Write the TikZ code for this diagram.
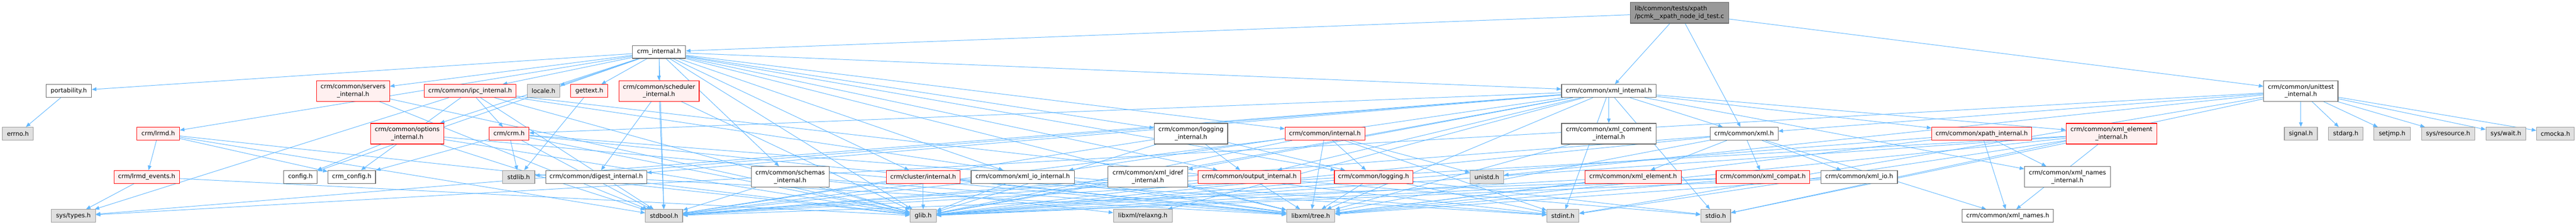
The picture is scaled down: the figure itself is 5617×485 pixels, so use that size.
\documentclass[tikz,border=0pt]{standalone}
\usepackage{fontspec}
\setmainfont{DejaVu Sans}
\usetikzlibrary{arrows.meta,backgrounds}
\definecolor{edgec}{HTML}{63B8FF}
\definecolor{wdraw}{HTML}{666666}
\definecolor{gfill}{HTML}{E0E0E0}
\definecolor{gdraw}{HTML}{999999}
\definecolor{rfill}{HTML}{FFF0F0}
\definecolor{rdraw}{HTML}{FF0000}
\definecolor{rootfill}{HTML}{999999}
\begin{document}
\begin{tikzpicture}[x=1pt,y=-1pt,
  font=\fontsize{13.3}{16.5}\selectfont,
  nd/.style={draw, line width=1.3pt, inner xsep=4pt, inner ysep=0pt, minimum height=28pt, align=center, anchor=center},
  wn/.style={nd, fill=white, draw=wdraw},
  gn/.style={nd, fill=gfill, draw=gdraw},
  rn/.style={nd, fill=rfill, draw=rdraw},
  rt/.style={nd, fill=rootfill, draw=wdraw},
  two/.style={minimum height=45pt},
  e/.style={draw=edgec, line width=1.1pt, -{Triangle[length=10pt,width=8pt]}}]
\useasboundingbox (0,0) rectangle (5617,485);
% row 0
\node[rt, two, minimum width=215pt, align=left] (root) at (3662,28) {lib/common/tests/xpath\\/pcmk\_\_xpath\_node\_id\_test.c};
% row 1
\node[wn, minimum width=116pt] (crmint) at (1437,113) {crm\_internal.h};
% row 2
\node[wn, minimum width=99pt] (portab) at (150,198) {portability.h};
\node[rn, two, minimum width=159pt] (servers) at (770,198) {crm/common/servers\\\_internal.h};
\node[rn, minimum width=200pt] (ipcint) at (1025,198) {crm/common/ipc\_internal.h};
\node[gn, minimum width=71pt] (locale) at (1185,198) {locale.h};
\node[rn, minimum width=81pt] (gettext) at (1285,198) {gettext.h};
\node[rn, two, minimum width=175pt] (sched) at (1437,198) {crm/common/scheduler\\\_internal.h};
\node[wn, minimum width=206pt] (xmlint) at (3508,198) {crm/common/xml\_internal.h};
\node[wn, two, minimum width=162pt] (unitint) at (5017,198) {crm/common/unittest\\\_internal.h};
% row 3
\node[gn, minimum width=67pt] (errno) at (39,291) {errno.h};
\node[rn, minimum width=93pt] (lrmd) at (345,291) {crm/lrmd.h};
\node[rn, two, minimum width=160pt] (optint) at (888,291) {crm/common/options\\\_internal.h};
\node[rn, minimum width=87pt] (crmh) at (1110,291) {crm/crm.h};
\node[wn, two, minimum width=160pt] (logint) at (2597,291) {crm/common/logging\\\_internal.h};
\node[rn, minimum width=174pt] (cominternal) at (2889,291) {crm/common/internal.h};
\node[wn, two, minimum width=206pt] (xmlcomment) at (3508,291) {crm/common/xml\_comment\\\_internal.h};
\node[wn, minimum width=148pt] (xmlh) at (3803,291) {crm/common/xml.h};
\node[rn, minimum width=218pt] (xpathint) at (4321,291) {crm/common/xpath\_internal.h};
\node[rn, two, minimum width=198pt] (xmlelemint) at (4604,291) {crm/common/xml\_element\\\_internal.h};
\node[gn, minimum width=72pt] (signal) at (5017,291) {signal.h};
\node[gn, minimum width=75pt] (stdarg) at (5115,291) {stdarg.h};
\node[gn, minimum width=80pt] (setjmp) at (5216,291) {setjmp.h};
\node[gn, minimum width=116pt] (sysres) at (5338,291) {sys/resource.h};
\node[gn, minimum width=87pt] (syswait) at (5464,291) {sys/wait.h};
\node[gn, minimum width=82pt] (cmocka) at (5572,291) {cmocka.h};
% row 4
\node[rn, minimum width=143pt] (lrmdev) at (320,385) {crm/lrmd\_events.h};
\node[wn, minimum width=73pt] (config) at (655,385) {config.h};
\node[wn, minimum width=104pt] (crmconfig) at (767,385) {crm\_config.h};
\node[gn, minimum width=70pt] (stdlib) at (1131,385) {stdlib.h};
\node[wn, minimum width=220pt] (digest) at (1300,385) {crm/common/digest\_internal.h};
\node[wn, two, minimum width=170pt] (schemas) at (1723,385) {crm/common/schemas\\\_internal.h};
\node[rn, minimum width=161pt] (cluster) at (2013,385) {crm/cluster/internal.h};
\node[wn, minimum width=225pt] (xmlioint) at (2230,385) {crm/common/xml\_io\_internal.h};
\node[wn, two, minimum width=174pt] (xmlidref) at (2503,385) {crm/common/xml\_idref\\\_internal.h};
\node[rn, minimum width=224pt] (outint) at (2724,385) {crm/common/output\_internal.h};
\node[rn, minimum width=171pt] (logging) at (2995,385) {crm/common/logging.h};
\node[gn, minimum width=73pt] (unistd) at (3242,385) {unistd.h};
\node[rn, minimum width=210pt] (xmlelem) at (3561,385) {crm/common/xml\_element.h};
\node[rn, minimum width=204pt] (xmlcompat) at (3844,385) {crm/common/xml\_compat.h};
\node[wn, minimum width=167pt] (xmlio) at (4054,385) {crm/common/xml\_io.h};
\node[wn, two, minimum width=187pt] (xmlnamesint) at (4508,385) {crm/common/xml\_names\\\_internal.h};
% row 5
\node[gn, minimum width=96pt] (systypes) at (160,470) {sys/types.h};
\node[gn, minimum width=81pt] (stdbool) at (1448,470) {stdbool.h};
\node[gn, minimum width=57pt] (glib) at (2013,470) {glib.h};
\node[gn, minimum width=128pt] (relaxng) at (2492,470) {libxml/relaxng.h};
\node[gn, minimum width=105pt] (tree) at (2858,470) {libxml/tree.h};
\node[gn, minimum width=70pt] (stdint) at (3408,470) {stdint.h};
\node[gn, minimum width=65pt] (stdio) at (3741,470) {stdio.h};
\node[wn, minimum width=199pt] (xmlnames) at (4378,470) {crm/common/xml\_names.h};
% edges (behind the nodes)
\begin{pgfonlayer}{background}
\foreach \s/\t in {
 root/crmint, root/unitint, root/xmlint, root/xmlh,
 crmint/portab, crmint/lrmd, crmint/config, crmint/servers, crmint/ipcint, crmint/locale, crmint/gettext, crmint/sched,
 crmint/optint, crmint/schemas, crmint/cluster, crmint/logint, crmint/outint, crmint/logging, crmint/cominternal,
 crmint/xmlint, crmint/xmlioint, crmint/stdbool, crmint/glib, crmint/tree,
 portab/errno,
 lrmd/lrmdev, lrmd/crmconfig, lrmd/stdbool, lrmd/glib,
 lrmdev/systypes, lrmdev/glib,
 servers/stdbool, servers/glib,
 ipcint/crmh, ipcint/crmconfig, ipcint/systypes, ipcint/stdbool, ipcint/glib, ipcint/stdint, ipcint/tree,
 gettext/stdlib,
 sched/digest, sched/glib, sched/stdbool,
 optint/config, optint/stdbool, optint/glib, optint/tree,
 crmh/crmconfig, crmh/stdlib, crmh/glib, crmh/stdbool, crmh/tree, crmh/stdint,
 digest/tree, digest/glib,
 schemas/stdbool, schemas/glib, schemas/relaxng, schemas/tree,
 cluster/stdbool, cluster/glib, cluster/stdint, cluster/tree,
 logint/outint, logint/logging, logint/glib, logint/stdbool,
 xmlioint/stdbool, xmlioint/glib, xmlioint/tree,
 xmlidref/glib, xmlidref/tree, xmlidref/stdbool,
 outint/glib, outint/tree, outint/stdbool, outint/stdio,
 cominternal/logging, cominternal/unistd, cominternal/tree, cominternal/stdint, cominternal/glib, cominternal/stdbool,
 logging/tree, logging/glib, logging/stdint, logging/stdio,
 xmlint/xmlcomment, xmlint/xmlh, xmlint/xmlelemint, xmlint/xpathint, xmlint/xmlnamesint, xmlint/xmlidref, xmlint/xmlioint,
 xmlint/outint, xmlint/crmh, xmlint/digest, xmlint/stdlib, xmlint/stdio, xmlint/stdint, xmlint/glib, xmlint/tree,
 xmlint/relaxng, xmlint/systypes,
 xmlcomment/tree,
 xmlh/xmlelem, xmlh/xmlcompat, xmlh/xmlio, xmlh/xmlnames, xmlh/stdbool, xmlh/glib, xmlh/tree,
 xpathint/xmlnamesint, xpathint/xmlnames, xpathint/glib, xpathint/tree,
 xmlelemint/xmlnames, xmlelemint/tree, xmlelemint/glib, xmlelemint/stdint, xmlelemint/stdio, xmlelemint/stdbool,
 xmlelem/tree, xmlelem/glib,
 xmlcompat/glib, xmlcompat/tree, xmlcompat/stdbool,
 xmlio/tree, xmlio/glib,
 unitint/signal, unitint/stdarg, unitint/setjmp, unitint/sysres, unitint/syswait, unitint/cmocka,
 unitint/xmlh, unitint/unistd, unitint/stdint, unitint/stdio, unitint/systypes}
 {\draw[e] (\s) -- (\t);}
\end{pgfonlayer}
\end{tikzpicture}
\end{document}
